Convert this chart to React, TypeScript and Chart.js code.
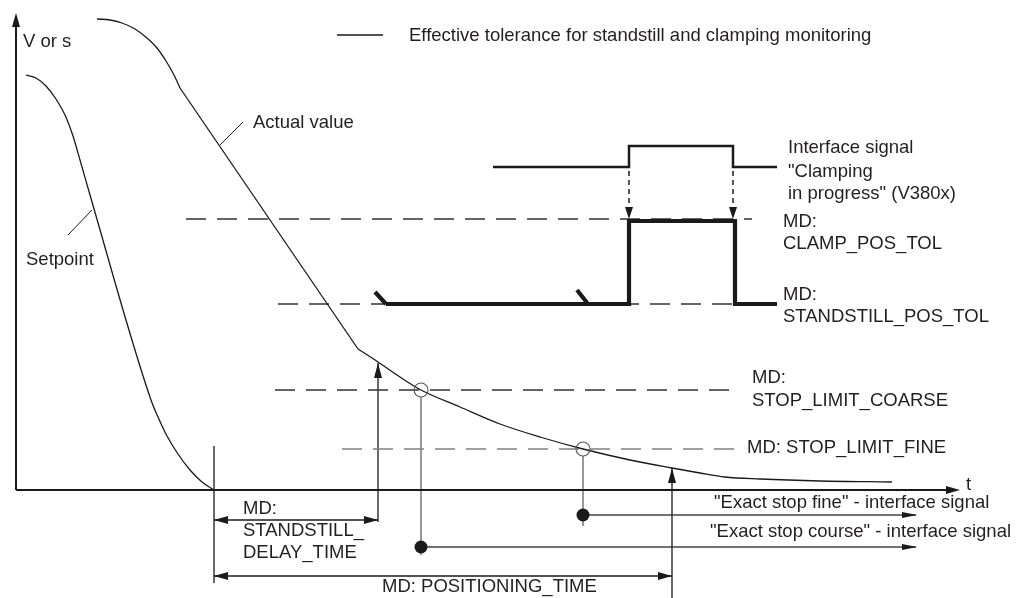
import React, { useEffect, useRef } from "react";
import { Chart, registerables } from "chart.js";
Chart.register(...registerables);

// Diagram units: t = time (horizontal), v = value (vertical); origin at the axes' corner.
const T_MIN = -16;
const T_MAX = 1009;
const V_MIN = -108;
const V_MAX = 490;

// Tolerance levels
const CLAMP_POS_TOL = 271;
const STANDSTILL_POS_TOL = 186;
const STOP_LIMIT_COARSE = 100;
const STOP_LIMIT_FINE = 41;

const setpoint = [
  [10, 415], [20, 412], [30, 404], [40, 391], [49, 375], [57, 354], [64, 330], [74, 295],
  [135, 90], [142, 73], [151, 54], [162, 36], [174, 20], [186, 8], [198, 0],
];
const actualUpper = [
  [81, 471], [94, 470], [106, 467], [119, 461], [131, 452], [141, 442], [150, 429], [158, 415], [164, 402],
];
const actualStraight = [[164, 402], [342, 141]];
const actualLower = [
  [342, 141], [362, 128], [384, 113], [405, 100], [444, 83], [484, 66], [524, 53], [567, 41],
  [614, 30], [656, 22], [684, 17], [709, 13], [744, 11], [804, 9], [876, 8],
];

const yAxis = [[0, 0], [0, 470]];
const xAxis = [[0, 0], [940, 0]];
const legendLine = [[321, 455], [367, 455]];
const actualLeader = [[204, 345], [227, 368]];
const setpointLeader = [[52, 255], [76, 280]];

const clampDash = [[170, CLAMP_POS_TOL], [736, CLAMP_POS_TOL]];
const standstillDash = [[262, STANDSTILL_POS_TOL], [719, STANDSTILL_POS_TOL]];
const coarseDash = [[259, STOP_LIMIT_COARSE], [717, STOP_LIMIT_COARSE]];
const fineDash = [[326, STOP_LIMIT_FINE], [722, STOP_LIMIT_FINE]];

const clampSignal = [[477, 323], [613, 323], [613, 344], [717, 344], [717, 323], [761, 323]];
const clampArrowA = [[613, 319], [613, 275]];
const clampArrowB = [[717, 319], [717, 275]];

const tolTickA = [[359, 198], [370, 186]];
const tolTickB = [[561, 200], [572, 186]];
const tolerance = [[370, 186], [613, 186], [613, 269], [719, 269], [719, 186], [761, 186]];

const delayVertical = [[362, -32], [362, 127]];
const delayDim = [[198, -30], [362, -30]];
const startExtension = [[198, 44], [198, -93]];
const positioningDim = [[198, -86], [656, -86]];
const positioningVertical = [[656, -108], [656, 22]];
const coarseDrop = [[405, 93], [405, -65]];
const fineDrop = [[567, 34], [567, -36]];
const fineSignal = [[567, -25], [900, -25]];
const coarseSignal = [[405, -57], [900, -57]];

const crossings = [[405, STOP_LIMIT_COARSE], [567, STOP_LIMIT_FINE]];
const signalDots = [[567, -25], [405, -57]];

// arrow heads: tip t, tip v, direction, length, width
const arrowHeads: [number, number, string, number, number][] = [
  [0, 477, "up", 14, 8],
  [944, 0, "right", 14, 8],
  [613, 271, "down", 12, 8],
  [717, 271, "down", 12, 8],
  [362, 127, "up", 15, 8],
  [198, -30, "left", 14, 8],
  [362, -30, "right", 14, 8],
  [198, -86, "left", 14, 8],
  [656, -86, "right", 14, 8],
  [656, 22, "up", 15, 8],
  [901, -25, "right", 15, 6],
  [901, -57, "right", 15, 6],
];

const labelTexts = [
  "V or s",
  "Effective tolerance for standstill and clamping monitoring",
  "Actual value",
  "Setpoint",
  "Interface signal",
  "\"Clamping",
  "in progress\" (V380x)",
  "MD:",
  "CLAMP_POS_TOL",
  "MD:",
  "STANDSTILL_POS_TOL",
  "MD:",
  "STOP_LIMIT_COARSE",
  "MD: STOP_LIMIT_FINE",
  "t",
  "\"Exact stop fine\" - interface signal",
  "\"Exact stop course\" - interface signal",
  "MD:",
  "STANDSTILL_",
  "DELAY_TIME",
  "MD: POSITIONING_TIME",
];
const labelAnchors = [
  [7, 448], [393, 454], [237, 367], [10, 230], [772, 342], [772, 318], [772, 296],
  [767, 268], [767, 246], [767, 195], [767, 173], [736, 112], [736, 89], [731, 42],
  [950, 5], [698, -13], [694, -42], [227, -19], [227, -41], [227, -63], [366, -97],
];

const pts = (a: number[][]) => a.map(([x, y]) => ({ x, y }));

const line = (data: number[][], opts: any = {}) => ({
  data: pts(data),
  showLine: true,
  pointRadius: 0,
  borderColor: "#1a1a1a",
  borderWidth: 1.3,
  tension: 0,
  fill: false,
  ...opts,
});

const overlayPlugin = {
  id: "overlay",
  afterDatasetsDraw(chart: any) {
    const { ctx } = chart;
    const xs = chart.scales.x;
    const ys = chart.scales.y;
    ctx.save();
    ctx.fillStyle = "#1a1a1a";
    for (const [t, v, dir, len, w] of arrowHeads) {
      const px = xs.getPixelForValue(t);
      const py = ys.getPixelForValue(v);
      let dx = 0, dy = 0;
      if (dir === "up") dy = -1;
      if (dir === "down") dy = 1;
      if (dir === "left") dx = -1;
      if (dir === "right") dx = 1;
      const bx = px - dx * len;
      const by = py - dy * len;
      const nx = -dy, ny = dx;
      ctx.beginPath();
      ctx.moveTo(px, py);
      ctx.lineTo(bx + nx * w / 2, by + ny * w / 2);
      ctx.lineTo(bx - nx * w / 2, by - ny * w / 2);
      ctx.closePath();
      ctx.fill();
    }
    ctx.font = '18.5px "Liberation Sans", Arial, sans-serif';
    ctx.fillStyle = "#231f20";
    ctx.textBaseline = "middle";
    ctx.textAlign = "left";
    labelTexts.forEach((txt, i) => {
      const [t, v] = labelAnchors[i];
      ctx.fillText(txt, xs.getPixelForValue(t), ys.getPixelForValue(v));
    });
    ctx.restore();
  },
};

export default function App() {
  const ref = useRef<HTMLCanvasElement>(null);
  useEffect(() => {
    document.body.style.margin = "0";
    const datasets: any[] = [
      {
        data: pts(signalDots), showLine: false, pointRadius: 6.5,
        pointBackgroundColor: "#1a1a1a", pointBorderColor: "#1a1a1a", pointBorderWidth: 0,
      },
      {
        data: pts(crossings), showLine: false, pointRadius: 7,
        pointBackgroundColor: "rgba(0,0,0,0)", pointBorderColor: "#555", pointBorderWidth: 1.1,
      },
      line(tolerance, { borderWidth: 4.2, borderColor: "#1a1a1a", borderJoinStyle: "miter" }),
      line(tolTickA, { borderWidth: 4.2 }),
      line(tolTickB, { borderWidth: 4.2 }),
      line(clampSignal, { borderWidth: 2.5, borderJoinStyle: "miter" }),
      line(clampArrowA, { borderWidth: 1.5, borderDash: [5, 4] }),
      line(clampArrowB, { borderWidth: 1.5, borderDash: [5, 4] }),
      line(setpoint, { cubicInterpolationMode: "monotone" }),
      line(actualUpper, { cubicInterpolationMode: "monotone" }),
      line(actualStraight),
      line(actualLower, { cubicInterpolationMode: "monotone" }),
      line(yAxis, { borderWidth: 2 }),
      line(xAxis, { borderWidth: 2 }),
      line(legendLine, { borderWidth: 1.3 }),
      line(actualLeader, { borderWidth: 1 }),
      line(setpointLeader, { borderWidth: 1 }),
      line(clampDash, { borderDash: [20, 11], borderColor: "#333" }),
      line(standstillDash, { borderDash: [20, 11], borderColor: "#333" }),
      line(coarseDash, { borderDash: [20, 11], borderColor: "#333" }),
      line(fineDash, { borderDash: [20, 11], borderColor: "#808080", borderWidth: 1.6 }),
      line(delayVertical, { borderWidth: 1.3 }),
      line(delayDim, { borderWidth: 1.3 }),
      line(startExtension, { borderWidth: 1.3 }),
      line(positioningDim, { borderWidth: 1.3 }),
      line(positioningVertical, { borderWidth: 1.3 }),
      line(coarseDrop, { borderWidth: 1.6, borderColor: "#808080" }),
      line(fineDrop, { borderWidth: 1.6, borderColor: "#808080" }),
      line(fineSignal, { borderWidth: 1.3, borderColor: "#444" }),
      line(coarseSignal, { borderWidth: 1.3, borderColor: "#444" }),
    ];
    const chart = new Chart(ref.current as HTMLCanvasElement, {
      type: "scatter",
      data: { datasets },
      options: {
        responsive: false,
        animation: false,
        devicePixelRatio: 1,
        events: [],
        layout: { padding: 0, autoPadding: false },
        scales: {
          x: { type: "linear", min: T_MIN, max: T_MAX, display: false },
          y: { type: "linear", min: V_MIN, max: V_MAX, display: false },
        },
        plugins: { legend: { display: false }, tooltip: { enabled: false } },
      } as any,
      plugins: [overlayPlugin],
    });
    return () => chart.destroy();
  }, []);
  return (
    <div style={{ position: "fixed", left: 0, top: 0, width: 1025, height: 598, background: "#fff" }}>
      <canvas ref={ref} width={1025} height={598} style={{ display: "block", width: 1025, height: 598 }} />
    </div>
  );
}
